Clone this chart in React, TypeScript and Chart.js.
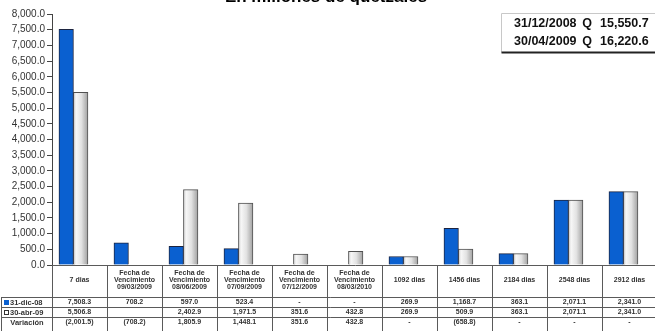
import React, { useEffect, useRef } from "react";
import { Chart, registerables } from "chart.js";

Chart.register(...registerables);

const TITLE = "En millones de quetzales";
const CATEGORIES: string[][] = [
  ["7 dias"],
  ["Fecha de", "Vencimiento", "09/03/2009"],
  ["Fecha de", "Vencimiento", "08/06/2009"],
  ["Fecha de", "Vencimiento", "07/09/2009"],
  ["Fecha de", "Vencimiento", "07/12/2009"],
  ["Fecha de", "Vencimiento", "08/03/2010"],
  ["1092 dias"],
  ["1456 dias"],
  ["2184 dias"],
  ["2548 dias"],
  ["2912 dias"],
];
const SERIES_DIC08 = [7508.3, 708.2, 597.0, 523.4, 0, 0, 269.9, 1168.7, 363.1, 2071.1, 2341.0];
const SERIES_ABR09 = [5506.8, null, 2402.9, 1971.5, 351.6, 432.8, 269.9, 509.9, 363.1, 2071.1, 2341.0];
const VARIACION = [-2001.5, -708.2, 1805.9, 1448.1, 351.6, 432.8, 0, -658.8, 0, 0, 0];
const ROW_LABELS = ["31-dic-08", "30-abr-09", "Variación"];
const TOTALS = [
  ["31/12/2008", "Q", "15,550.7"],
  ["30/04/2009", "Q", "16,220.6"],
];
const Y_MIN = 0;
const Y_MAX = 8000;
const Y_STEP = 500;

const BLUE = "#0a60d0";
const FONT = "'Liberation Sans', Arial, sans-serif";
const GROUP_SHIFT = 0.11; // bars sit slightly left of the table column centre
const BAR_W = 14.5;

const fmt = (v: number | null, zeroDash = true) => {
  if (v === null || v === undefined) return "";
  if (v === 0) return zeroDash ? "-" : "";
  const s = Math.abs(v).toLocaleString("en-US", { minimumFractionDigits: 1, maximumFractionDigits: 1 });
  return v < 0 ? `(${s})` : s;
};

const tablePlugin = {
  id: "tablePlugin",
  afterDraw(chart: any) {
    const ctx = chart.ctx;
    const xs = chart.scales.x;
    const area = chart.chartArea;
    const n = CATEGORIES.length;
    const top = area.bottom;
    const rowY = [top, top + 32, top + 42, top + 52, top + 70];
    const colL = (i: number) => xs.getPixelForValue(i - 0.5 + GROUP_SHIFT);
    const colC = (i: number) => xs.getPixelForValue(i + GROUP_SHIFT);
    const leftEdge = 1.5;
    ctx.save();
    ctx.strokeStyle = "#5a5a5a";
    ctx.lineWidth = 1;
    ctx.beginPath();
    ctx.moveTo(colL(0), Math.round(top) + 0.5);
    ctx.lineTo(colL(n) + 2, Math.round(top) + 0.5);
    for (let r = 1; r <= 3; r++) {
      const y = Math.round(rowY[r]) + 0.5;
      ctx.moveTo(leftEdge, y);
      ctx.lineTo(colL(n) + 2, y);
    }
    for (let i = 0; i <= n; i++) {
      const x = Math.round(colL(i)) + 0.5;
      ctx.moveTo(x, top);
      ctx.lineTo(x, rowY[4]);
    }
    ctx.moveTo(leftEdge, rowY[1]);
    ctx.lineTo(leftEdge, rowY[4]);
    ctx.stroke();

    ctx.fillStyle = "#333";
    ctx.textAlign = "center";
    ctx.textBaseline = "middle";
    ctx.font = `bold 7px ${FONT}`;
    const hMid = top + 15;
    CATEGORIES.forEach((lines, i) => {
      const lh = 7.2;
      const y0 = hMid - ((lines.length - 1) * lh) / 2;
      lines.forEach((t, k) => ctx.fillText(t, colC(i), y0 + k * lh));
    });
    const rows = [
      SERIES_DIC08.map((v) => fmt(v)),
      SERIES_ABR09.map((v) => fmt(v)),
      VARIACION.map((v) => fmt(v)),
    ];
    const rowMid = (r: number) => (r < 2 ? (rowY[r + 1] + rowY[r + 2]) / 2 + 0.5 : rowY[3] + 5.5);
    rows.forEach((vals, r) => {
      vals.forEach((t, i) => ctx.fillText(t, colC(i), rowMid(r)));
    });
    ctx.font = `bold 7.5px ${FONT}`;
    ctx.textAlign = "left";
    ROW_LABELS.forEach((lab, r) => {
      const y = rowMid(r);
      if (r === 0) {
        ctx.fillStyle = BLUE;
        ctx.fillRect(4, y - 2.5, 5, 5);
        ctx.fillStyle = "#333";
        ctx.fillText(lab, 10, y);
      } else if (r === 1) {
        ctx.strokeStyle = "#333";
        ctx.strokeRect(4.5, y - 2, 4, 4);
        ctx.fillText(lab, 10, y);
      } else {
        ctx.textAlign = "center";
        ctx.fillText(lab, 27, y);
      }
    });

    ctx.textAlign = "center";
    ctx.textBaseline = "alphabetic";
    ctx.fillStyle = "#000";
    ctx.font = `bold 17px ${FONT}`;
    ctx.fillText(TITLE, 326, 1.5);

    const bx = 501.5, by = 13.5, bw = 170, bh = 39;
    ctx.lineWidth = 1;
    ctx.strokeStyle = "#c8c8c8";
    ctx.beginPath();
    ctx.moveTo(bx, by + bh);
    ctx.lineTo(bx, by);
    ctx.lineTo(bx + bw, by);
    ctx.stroke();
    ctx.strokeStyle = "#222";
    ctx.lineWidth = 2;
    ctx.beginPath();
    ctx.moveTo(bx, by + bh);
    ctx.lineTo(bx + bw, by + bh);
    ctx.stroke();
    ctx.fillStyle = "#111";
    ctx.font = `bold 12.5px ${FONT}`;
    ctx.textBaseline = "middle";
    TOTALS.forEach((row, r) => {
      const y = 23.5 + r * 18;
      ctx.textAlign = "left";
      ctx.fillText(row[0], 514, y);
      ctx.textAlign = "center";
      ctx.fillText(row[1], 587, y);
      ctx.textAlign = "left";
      ctx.fillText(row[2], 600, y);
    });
    ctx.restore();
  },
};

export default function App() {
  const ref = useRef<HTMLCanvasElement>(null);
  useEffect(() => {
    if (!ref.current) return;
    const grayFill = (c: any) => {
      const chart = c.chart;
      const xs = chart.scales && chart.scales.x;
      if (!chart.chartArea || !xs || c.dataIndex == null) return "#dcdcdc";
      const cx = xs.getPixelForValue(c.dataIndex);
      const g = chart.ctx.createLinearGradient(cx, 0, cx + BAR_W, 0);
      g.addColorStop(0, "#d4d4d4");
      g.addColorStop(0.2, "#f6f6f6");
      g.addColorStop(0.55, "#e2e2e2");
      g.addColorStop(1, "#a0a0a0");
      return g;
    };
    const chart = new Chart(ref.current, {
      type: "bar",
      data: {
        datasets: [
          {
            label: ROW_LABELS[0],
            data: SERIES_DIC08.map((v, i) => ({ x: i, y: v })),
            backgroundColor: BLUE,
            borderColor: "#1c2440",
            borderWidth: 1,
            barThickness: BAR_W,
          },
          {
            label: ROW_LABELS[1],
            data: SERIES_ABR09.map((v, i) => ({ x: i, y: v })),
            backgroundColor: grayFill,
            borderColor: "#505050",
            borderWidth: 1,
            barThickness: BAR_W,
          },
        ] as any,
      },
      options: {
        animation: false,
        responsive: false,
        maintainAspectRatio: false,
        layout: { padding: { left: 0, right: 8, top: 14, bottom: 66 } },
        plugins: { legend: { display: false }, tooltip: { enabled: false }, title: { display: false } },
        scales: {
          x: {
            type: "linear",
            offset: false,
            min: -0.5 + GROUP_SHIFT,
            max: CATEGORIES.length - 0.5 + GROUP_SHIFT,
            display: false,
            grid: { offset: false },
          },
          y: {
            min: Y_MIN,
            max: Y_MAX,
            afterFit: (s: any) => {
              s.width = 52;
            },
            ticks: {
              stepSize: Y_STEP,
              padding: 2,
              color: "#333",
              font: { family: FONT, size: 10 },
              callback: (v: any) =>
                Number(v).toLocaleString("en-US", { minimumFractionDigits: 1, maximumFractionDigits: 1 }),
            },
            grid: { drawOnChartArea: false, drawTicks: true, tickLength: 5, color: "#444" },
            border: { display: true, color: "#444" },
          },
        },
      } as any,
      plugins: [tablePlugin],
    });
    return () => chart.destroy();
  }, []);
  return (
    <div style={{ position: "fixed", left: 0, top: 0, width: 655, height: 331, overflow: "hidden", background: "#fff" }}>
      <canvas ref={ref} width={665} height={331} style={{ display: "block", width: 665, height: 331 }} />
    </div>
  );
}
